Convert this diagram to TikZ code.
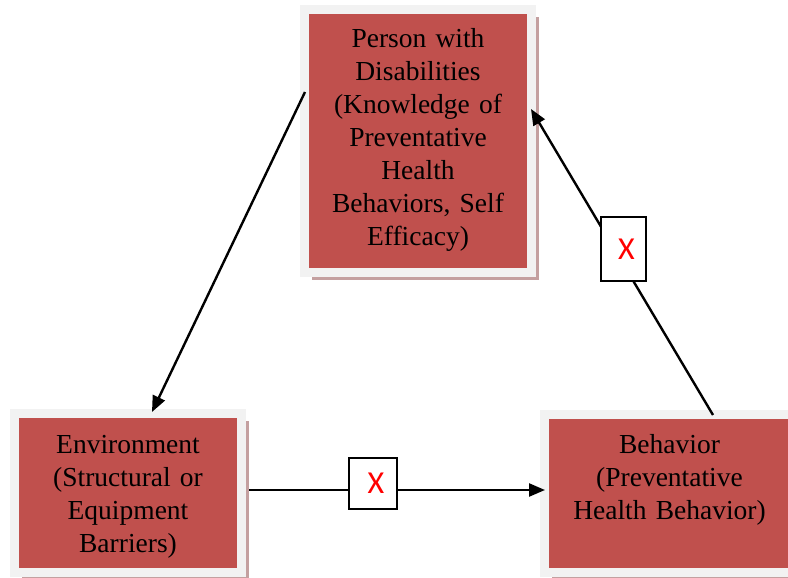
\documentclass[tikz,border=0pt]{standalone}
\usepackage{fontspec}
\setmainfont[WordSpace=0.8]{Liberation Serif}
\newfontfamily\markfont{Carlito}
\usetikzlibrary{arrows.meta,shadows,calc}
\definecolor{boxred}{RGB}{192,80,77}
\definecolor{framegray}{RGB}{242,242,242}
\definecolor{shadowpink}{RGB}{196,160,160}
\definecolor{markred}{RGB}{255,0,0}
\begin{document}
\begin{tikzpicture}[x=1pt,y=-1pt,
  framedbox/.style={draw=framegray, line width=9pt, fill=boxred,
    inner sep=0pt, outer sep=4.5pt,
    drop shadow={shadow xshift=7.5pt, shadow yshift=-7.5pt,
      fill=shadowpink, opacity=1}},
  boxlabel/.style={font=\fontsize{27.5}{33}\selectfont, text=black,
    align=center, text width=220pt, inner sep=0pt, anchor=base},
  conn/.style={draw=black, line width=2.4pt,
    -{Triangle[length=16pt,width=13pt]}},
  xbox/.style={draw=black, line width=2.2pt, fill=white, inner sep=0pt,
    font=\markfont\fontsize{32}{36}\selectfont, text=markred},
]
\useasboundingbox (0,0) rectangle (788,578);

% the three factors
\node[framedbox, minimum width=227pt, minimum height=263pt] (person) at (418,141) {};
\node[framedbox, minimum width=227pt, minimum height=159pt] (env) at (128,493) {};
\node[framedbox, minimum width=250pt, minimum height=158pt] (behavior) at (669.5,493.5) {};

\node[boxlabel] (persontext) at (418,48)
  {Person with\\Disabilities\\(Knowledge of\\Preventative\\Health\\Behaviors, Self\\Efficacy)};
\node[boxlabel] (envtext) at (128,453)
  {Environment\\(Structural or\\Equipment\\Barriers)};
\node[boxlabel] (behaviortext) at (669.5,453)
  {Behavior\\(Preventative\\Health Behavior)};

% influences between the factors
\draw[conn] ($(person.west)+(5,-49)$) -- ($(env.north)+(24,3)$);
\draw[conn] ($(behavior.north)+(43.5,5)$) -- ($(person.east)+(-5,-32)$);
\draw[conn] ($(env.east)+(3,-3)$) -- ($(behavior.west)+(5,-3.5)$);

% blocked links
\node[xbox, minimum width=48pt, minimum height=51pt] (blockenv) at (373,483.5) {\hspace*{6pt}X};
\node[xbox, minimum width=45pt, minimum height=64pt] (blockbeh) at (623.5,249) {\hspace*{6pt}X};
\end{tikzpicture}
\end{document}
